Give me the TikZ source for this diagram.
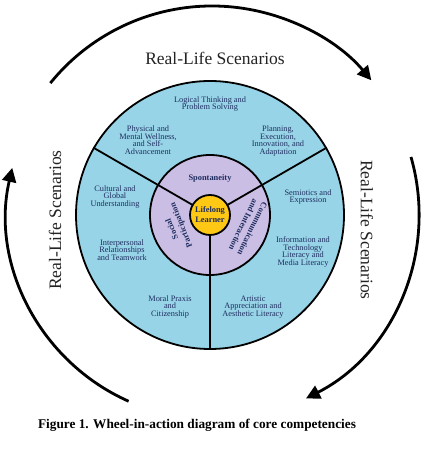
\documentclass[tikz,border=0pt]{standalone}
\usepackage{fontspec}
\setmainfont{Liberation Serif}
\usetikzlibrary{arrows.meta}
\definecolor{wheelblue}{RGB}{152,212,231}
\definecolor{wheelpurple}{RGB}{203,190,228}
\definecolor{wheelyellow}{RGB}{255,200,20}
\definecolor{navy}{RGB}{30,45,95}
\definecolor{scen}{RGB}{35,35,35}
\tikzset{
  ring/.style={circle, draw=black, line width=1.8pt, inner sep=0pt},
  spoke/.style={draw=black, line width=1.8pt},
  comp/.style={text=navy, align=center, font=\fontsize{8.3}{7.6}\selectfont, inner sep=0pt},
  core/.style={text=navy, align=center, font=\fontsize{8.4}{10}\selectfont\bfseries, inner sep=0pt},
  scenario/.style={text=scen, font=\fontsize{17.5}{20}\selectfont, inner sep=0pt},
  cycle arrow/.style={draw=black, line width=2.8pt, -{Triangle[length=14pt,width=14pt]}}
}
\begin{document}
\begin{tikzpicture}[x=1pt,y=1pt]
\useasboundingbox (0,0) rectangle (433,449);
% wheel
\node[ring, fill=wheelblue, minimum size=268pt] (outer) at (210,234) {};
\node[ring, fill=wheelpurple, minimum size=120pt] (mid) at (210,234) {};
\coordinate (c) at (210,234);
\draw[spoke] (c) -- (outer.30);
\draw[spoke] (c) -- (outer.150);
\draw[spoke] (c) -- (outer.270);
\node[ring, fill=wheelyellow, minimum size=40pt] (inner) at (210,234) {};
\node[core] (learner) at (inner.center) {Lifelong\\Learner};
\node[core] (spont) at (210,271) {Spontaneity};
\node[core, rotate=112] (social) at (177,222) {Social\\Participation};
\node[core, rotate=-116] (commu) at (248,222) {Communication\\and Interaction};
% competencies
\node[comp] (logic) at (210,345) {Logical Thinking and\\Problem Solving};
\node[comp] (phys) at (148,309) {Physical and\\Mental Wellness,\\and Self-\\Advancement};
\node[comp] (plan) at (278,308) {Planning,\\Execution,\\Innovation, and\\Adaptation};
\node[comp] (cult) at (115,252) {Cultural and\\Global\\Understanding};
\node[comp] (inter) at (122,199) {Interpersonal\\Relationships\\and Teamwork};
\node[comp] (moral) at (170,142) {Moral Praxis\\and\\Citizenship};
\node[comp] (semi) at (308,252) {Semiotics and\\Expression};
\node[comp] (info) at (303,197) {Information and\\Technology\\Literacy and\\Media Literacy};
\node[comp] (arts) at (253,142) {Artistic\\Appreciation and\\Aesthetic Literacy};
% cycle arrows
\coordinate (ac) at (212,235);
\draw[cycle arrow] ([shift={(141:208pt)}]ac) arc[start angle=141, end angle=40, radius=208pt];
\draw[cycle arrow] ([shift={(16:207pt)}]ac) arc[start angle=16, end angle=-63, radius=207pt];
\draw[cycle arrow] ([shift={(246:205pt)}]ac) arc[start angle=246, end angle=167, radius=205pt];
\node[scenario] (stop) at (215,391) {Real-Life Scenarios};
\node[scenario, rotate=90] (sleft) at (55,229) {Real-Life Scenarios};
\node[scenario, rotate=-90] (sright) at (367,219) {Real-Life Scenarios};
% caption
\node[font=\fontsize{13.3}{15}\selectfont\bfseries, inner sep=0pt] (cap) at (197,24) {Figure 1. Wheel-in-action diagram of core competencies};
\end{tikzpicture}
\end{document}
